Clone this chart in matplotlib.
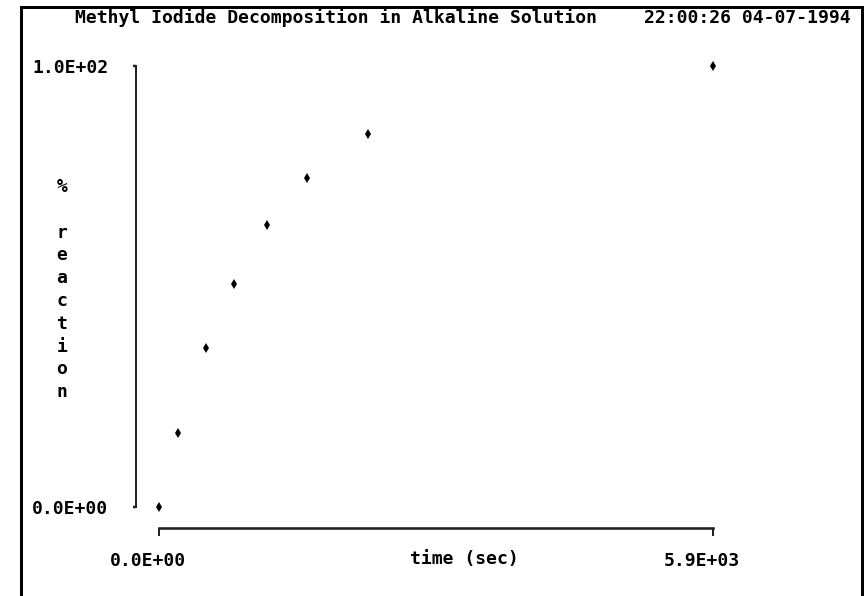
import matplotlib
matplotlib.use("Agg")
import matplotlib.pyplot as plt
import matplotlib.transforms as mtransforms
from matplotlib.lines import Line2D

# ---- data ----
time_sec = [0, 200, 500, 800, 1150, 1580, 2230, 5900]
pct_reaction = [0.0, 16.8, 36.0, 50.6, 63.9, 74.7, 84.6, 100.0]
x_ticks = [0, 5900]
x_tick_labels = ["0.0E+00", "5.9E+03"]
y_ticks = [0, 100]
y_tick_labels = ["0.0E+00", "1.0E+02"]
title = "Methyl Iodide Decomposition in Alkaline Solution"
stamp = "22:00:26 04-07-1994"
x_label = "time (sec)"
y_label = "% reaction"

W, H = 867, 596
DPI = 100
fig = plt.figure(figsize=(W / DPI, H / DPI), dpi=DPI)
fig.patch.set_facecolor("white")

def fx(x):
    return x / W

def fy(y):
    return 1 - y / H

FONT = dict(family="DejaVu Sans Mono", weight="bold", size=13)

# axes: data origin pixel (159.3, 507), far corner (712.7, 66)
x0, x1 = 159.3, 712.7
y0, y1 = 507.0, 66.0
ax = fig.add_axes([fx(x0), fy(y0), (x1 - x0) / W, (y0 - y1) / H])
ax.set_xlim(0, 5900)
ax.set_ylim(0, 100)
ax.patch.set_alpha(0)

pt = 72 / DPI  # points per pixel
for s in ["top", "right"]:
    ax.spines[s].set_visible(False)
ax.spines["left"].set_position(("outward", (x0 - 136) * pt))
ax.spines["bottom"].set_position(("outward", (527.5 - y0) * pt))
ax.spines["left"].set_linewidth(2 * pt)
ax.spines["bottom"].set_linewidth(2.6 * pt)
ax.spines["left"].set_color("#222222")
ax.spines["bottom"].set_color("#222222")

ax.set_xticks(x_ticks, labels=x_tick_labels)
ax.set_yticks(y_ticks, labels=y_tick_labels)
ax.tick_params(axis="x", direction="out", length=8 * pt, width=2 * pt,
               color="#222222", pad=17 * pt)
ax.tick_params(axis="y", direction="out", length=3 * pt, width=2.5 * pt,
               color="#222222", pad=25 * pt)
for lab in ax.get_xticklabels() + ax.get_yticklabels():
    lab.set_fontfamily(FONT["family"])
    lab.set_fontweight(FONT["weight"])
    lab.set_fontsize(FONT["size"])
off = mtransforms.ScaledTranslation(-11 / DPI, 0, fig.dpi_scale_trans)
for lab in ax.get_xticklabels():
    lab.set_transform(lab.get_transform() + off)

ax.plot(time_sec, pct_reaction, linestyle="none", marker="d",
        markersize=7 * pt, color="black", markeredgewidth=0,
        clip_on=False)

# titles and labels
fig.text(fx(75), fy(18), title, ha="left", va="center", **FONT)
fig.text(fx(851), fy(18), stamp, ha="right", va="center", **FONT)
fig.text(fx(410), fy(559), x_label, ha="left", va="center", **FONT)

chars = ["%", ""] + list(y_label.split(" ")[1])
for i, ch in enumerate(chars):
    if ch:
        fig.text(fx(62), fy(187 + i * 22.8), ch, ha="center", va="center", **FONT)

# outer frame (left, top, right)
lw = 3 * pt
fig.add_artist(Line2D([fx(20.5), fx(20.5)], [fy(7), -0.01], lw=lw, color="black",
                      transform=fig.transFigure))
fig.add_artist(Line2D([fx(20.5), fx(862)], [fy(7), fy(7)], lw=lw, color="black",
                      transform=fig.transFigure, solid_capstyle="projecting"))
fig.add_artist(Line2D([fx(862), fx(862)], [fy(7), -0.01], lw=lw, color="black",
                      transform=fig.transFigure))

fig.savefig("out.png", dpi=DPI, facecolor="white")
